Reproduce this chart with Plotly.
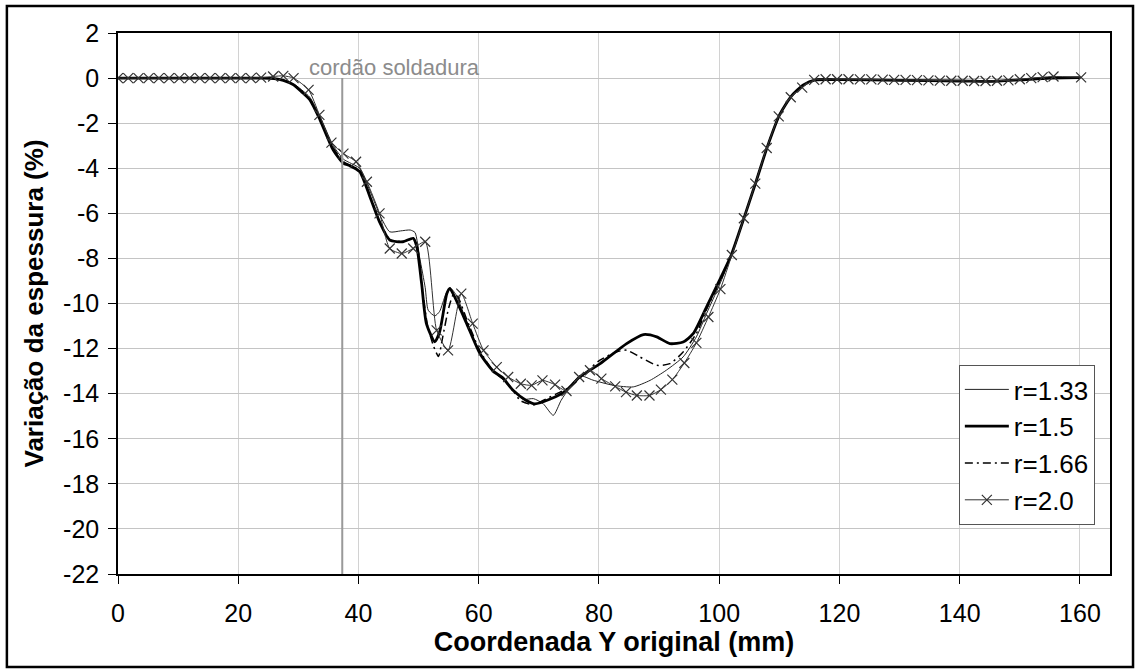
import plotly.graph_objects as go

# ---------------- data ----------------
x_r133 = [0, 10, 20, 24, 26, 27.5, 29.2, 31.9, 33.6, 35.8, 37.5, 38.5, 40.2, 41.9, 43.6, 45.2, 47.0, 48.6, 49.4,
          50.2, 51.1, 51.6, 52.7, 53.5, 54.5, 55.2, 56.2, 58.0, 60.2, 62.4, 64.0, 65.7, 67.4, 69.1, 70.7, 72.4,
          73.7, 75.2, 76.8, 79.0, 82.4, 85.7, 88.5, 91.2, 94.0, 96.2, 97.9, 100, 102, 104, 106, 108, 110, 112,
          114, 116, 120, 130, 140, 145, 150, 155, 160]
y_r133 = [0, 0, 0, 0, -0.02, -0.08, -0.25, -0.85, -1.7, -3.0, -3.6, -3.75, -4.0, -5.0, -6.1, -6.82, -6.78, -6.74, -6.85,
          -8.0, -9.3, -10.3, -10.55, -10.35, -9.6, -9.3, -9.6, -10.8, -12.2, -13.0, -13.3, -13.8, -14.25, -14.22, -14.44, -14.96,
          -14.3, -13.7, -13.2, -13.4, -13.63, -13.7, -13.41, -12.96, -12.37, -11.48, -10.44, -9.2, -7.9, -6.3, -4.7, -3.05, -1.65, -0.8,
          -0.3, -0.08, -0.07, -0.1, -0.13, -0.15, -0.08, 0.0, 0.02]

x_r15 = [0, 10, 20, 24, 26, 27.5, 29.2, 30.5, 31.9, 33.6, 35.8, 37.5, 38.5, 40.2, 41.9, 43.6, 45.2, 47.4, 49.1, 49.7,
         50.5, 51.3, 52.7, 53.5, 54.7, 55.2, 56.0, 58.0, 60.2, 62.4, 64.0, 65.7, 67.9, 69.3, 71.8, 74.6, 76.8, 80.2,
         84.6, 87.4, 89.6, 91.8, 94.0, 95.7, 97.9, 100, 102, 104, 106, 108, 110, 112, 114, 116, 120, 130, 140, 145,
         150, 155, 160]
y_r15 = [0, 0, 0, 0, -0.02, -0.1, -0.3, -0.6, -0.96, -1.85, -3.19, -3.78, -3.88, -4.15, -5.26, -6.44, -7.19, -7.26, -7.11, -7.48,
         -9.11, -10.89, -11.7, -11.26, -9.56, -9.33, -9.71, -10.89, -12.22, -13.0, -13.3, -13.85, -14.3, -14.45, -14.25, -13.85, -13.26, -12.67,
         -11.78, -11.38, -11.48, -11.78, -11.71, -11.33, -10.15, -9.0, -7.85, -6.3, -4.7, -3.05, -1.65, -0.8, -0.3, -0.08, -0.07, -0.1, -0.13, -0.15,
         -0.08, 0.0, 0.02]

x_r166 = [0, 10, 20, 24, 26, 27.5, 29.2, 31.9, 33.6, 35.8, 37.5, 38.5, 40.2, 41.9, 43.6, 45.2, 47.4, 49.1, 49.8, 50.6,
          51.5, 52.5, 53.3, 54.0, 55.0, 55.8, 56.5, 58.0, 60.2, 62.4, 64.0, 65.7, 66.9, 69.1, 70.7, 73.0, 75.2, 77.3,
          80.1, 82.9, 84.6, 86.8, 89.6, 91.8, 94.0, 96.2, 98.0, 100, 102, 104, 106, 108, 110, 112, 114, 116, 120,
          130, 140, 145, 150, 155, 160]
y_r166 = [0, 0, 0, 0, -0.02, -0.1, -0.3, -0.95, -1.8, -3.1, -3.7, -3.85, -4.1, -5.2, -6.4, -7.15, -7.25, -7.15, -7.5, -9.3,
          -11.0, -11.9, -12.35, -11.5, -10.2, -9.6, -9.7, -10.7, -12.1, -13.0, -13.35, -13.85, -14.3, -14.5, -14.3, -14.0, -13.7, -13.19,
          -12.52, -12.15, -12.07, -12.37, -12.74, -12.67, -12.15, -11.33, -10.2, -9.1, -7.85, -6.3, -4.7, -3.05, -1.65, -0.8, -0.3, -0.08, -0.07,
          -0.1, -0.13, -0.15, -0.08, 0.0, 0.02]

x_r20 = [0, 1.7, 3.4, 5.1, 6.8, 8.5, 10.2, 11.9, 13.6, 15.3, 17.0, 18.7, 20.4, 22.1, 23.8, 25.8, 27.5, 29.2, 31.7, 33.5,
         35.5, 37.5, 39.6, 41.4, 43.5, 45.2, 47.2, 49.1, 51.1, 53.0, 54.9, 57.1, 59.0, 60.8, 63.0, 64.9, 67.0, 68.8,
         70.6, 72.7, 74.6, 76.7, 78.5, 80.4, 82.7, 84.5, 86.3, 88.4, 90.3, 92.2, 94.2, 96.2, 98.2, 100.2, 102.1, 104.1,
         106.0, 107.9, 109.9, 111.9, 113.8, 115.8, 117.7, 119.6, 121.5, 123.4, 125.3, 127.2, 129.1, 131.0, 132.9, 134.8,
         136.7, 138.6, 140.5, 142.4, 144.3, 146.2, 148.1, 150.0, 151.9, 153.8, 155.6, 160.2]
y_r20 = [0, 0, 0, 0, 0, 0, 0, 0, 0, 0, 0, 0, 0, 0, 0.02, 0.07, 0.1, 0.0, -0.52, -1.63,
         -2.86, -3.35, -3.71, -4.6, -6.0, -7.56, -7.78, -7.56, -7.26, -11.19, -12.08, -9.56, -10.89, -12.08, -12.82, -13.26, -13.56, -13.63,
         -13.41, -13.6, -13.88, -13.26, -12.96, -13.33, -13.68, -13.93, -14.08, -14.08, -13.82, -13.38, -12.64, -11.75, -10.6, -9.36, -7.85, -6.22,
         -4.68, -3.1, -1.7, -0.85, -0.42, -0.08, -0.05, -0.05, -0.05, -0.06, -0.06, -0.07, -0.08, -0.08, -0.09, -0.1,
         -0.11, -0.12, -0.12, -0.13, -0.13, -0.12, -0.1, -0.05, 0.0, 0.04, 0.07, 0.03]

series_names = ["r=1.33", "r=1.5", "r=1.66", "r=2.0"]
y_tickvals = [2, 0, -2, -4, -6, -8, -10, -12, -14, -16, -18, -20, -22]
y_ticktext = ["2", "0", "-2", "-4", "-6", "-8", "-10", "-12", "-14", "-16", "-18", "-20", "-22"]
x_tickvals = [0, 20, 40, 60, 80, 100, 120, 140, 160]
weld_x = 37.3
weld_label = "cordão soldadura"

# ---------------- figure ----------------
FONT = "Liberation Sans, Arial, sans-serif"
fig = go.Figure()

fig.add_trace(go.Scatter(x=x_r133, y=y_r133, name=series_names[0], mode="lines", legendgroup="a",
                         line=dict(color="#222222", width=1, shape="spline", smoothing=0.6)))
fig.add_trace(go.Scatter(x=x_r15, y=y_r15, name=series_names[1], mode="lines", legendgroup="b",
                         line=dict(color="#000000", width=2.8, shape="spline", smoothing=0.6)))
fig.add_trace(go.Scatter(x=x_r166, y=y_r166, name=series_names[2], mode="lines", legendgroup="c",
                         line=dict(color="#000000", width=1.5, dash="8px,4px,2px,4px", shape="spline", smoothing=0.6)))
fig.add_trace(go.Scatter(x=x_r20, y=y_r20, name=series_names[3], mode="lines+markers", legendgroup="d",
                         line=dict(color="#333333", width=1, shape="spline", smoothing=0.6),
                         marker=dict(symbol="x-thin", size=10, line=dict(color="#333333", width=1.2))))

# weld bead line
fig.add_shape(type="line", x0=weld_x, x1=weld_x, y0=0, y1=-22, xref="x", yref="y",
              line=dict(color="#999999", width=2))
fig.add_annotation(x=46.0, y=0.48, xref="x", yref="y", text=weld_label, showarrow=False,
                   font=dict(family=FONT, size=22, color="#8c8c8c"), xanchor="center", yanchor="middle")

# outer frame
fig.add_shape(type="rect", xref="paper", yref="paper",
              x0=(7 - 118) / 991, x1=(1132 - 118) / 991, y0=(574 - 667) / 541, y1=(574 - 6) / 541,
              line=dict(color="#000000", width=2.5), fillcolor="rgba(0,0,0,0)", layer="below")

fig.update_layout(
    width=1138, height=671,
    margin=dict(l=118, r=28, t=33, b=97),
    paper_bgcolor="white", plot_bgcolor="white",
    font=dict(family=FONT, size=25, color="#000000"),
    showlegend=True,
    legend=dict(x=(958 - 118) / 991, y=(574 - 365) / 541, xanchor="left", yanchor="top",
                bgcolor="white", bordercolor="#555555", borderwidth=1,
                font=dict(family=FONT, size=26, color="#000000"),
                traceorder="grouped", tracegroupgap=0, itemwidth=44),
    xaxis=dict(range=[0, 165], tickvals=x_tickvals, showgrid=True, gridcolor="#d2d2d2", gridwidth=1,
               zeroline=False, showline=True, linecolor="#000000", linewidth=1.5, mirror=True,
               ticks="outside", ticklen=8, tickcolor="#000000", ticklabelstandoff=8,
               tickfont=dict(family=FONT, size=25),
               title=dict(text="<b>Coordenada Y original (mm)</b>", font=dict(family=FONT, size=27), standoff=2)),
    yaxis=dict(range=[-22, 2], tickvals=y_tickvals, ticktext=y_ticktext, showgrid=True, gridcolor="#c4c4c4",
               gridwidth=1, zeroline=False, showline=True, linecolor="#000000", linewidth=1.5, mirror=True,
               ticks="outside", ticklen=8, tickcolor="#000000", ticklabelstandoff=4,
               tickfont=dict(family=FONT, size=25),
               title=dict(text="<b>Variação da espessura (%)</b>", font=dict(family=FONT, size=26), standoff=12)),
)

fig.write_html("out.html")
